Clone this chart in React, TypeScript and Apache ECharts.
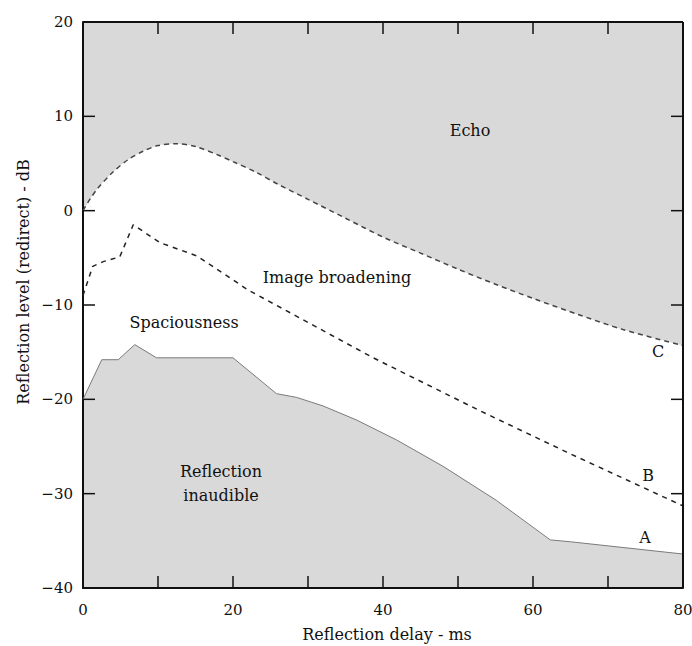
import React, { useEffect, useRef } from "react";
import * as echarts from "echarts";

// Reflection delay (ms) vs reflection level (dB)
const curveC: [number, number][] = [
  [0, 0], [1, 1.3], [2, 2.4], [4, 4.1], [6, 5.4], [8, 6.3], [10, 6.9], [12.5, 7.1],
  [15, 6.8], [18, 5.9], [20, 5.2], [23, 4.1], [26, 2.8], [30, 1.2], [35, -0.8],
  [40, -2.8], [45, -4.5], [50, -6.2], [55, -7.8], [60, -9.3], [66, -11.0],
  [72, -12.6], [80, -14.3],
];
const curveB: [number, number][] = [
  [0, -9.0], [1.3, -5.9], [2.7, -5.4], [4.9, -4.9], [6.7, -1.5], [10.3, -3.4],
  [15.2, -4.8], [22, -8.4], [38.7, -15.6], [52.9, -21.2], [64.5, -25.6], [80, -31.3],
];
const curveA: [number, number][] = [
  [0, -20.0], [2.5, -15.8], [4.7, -15.8], [6.9, -14.2], [9.8, -15.6], [20, -15.6],
  [25.8, -19.4], [28.5, -19.8], [32, -20.7], [36.5, -22.2], [41.8, -24.3], [48, -27.1],
  [55.1, -30.7], [62.3, -34.9], [65, -35.1], [80, -36.4],
];
const xTickLabels = ["0", "20", "40", "60", "80"];
const yTickLabels = ["−40", "−30", "−20", "−10", "0", "10", "20"];
const xTicks = [10, 20, 30, 40, 50, 60, 70];
const yTicks = [-30, -20, -10, 0, 10];

const FONT = "DejaVu Serif";
const FILL = "rgba(0,0,0,0.15)";
const X_MIN = 0, X_MAX = 80, Y_MIN = -40, Y_MAX = 20;

export default function App() {
  const ref = useRef<HTMLDivElement>(null);
  useEffect(() => {
    if (!ref.current) return;
    const chart = echarts.init(ref.current, undefined, { renderer: "svg" });
    const axisLine = () => ({ show: true, onZero: false, lineStyle: { color: "#111", width: 2 } });
    const xFmt = (v: number) => (xTickLabels.includes(String(v)) ? String(v) : "");
    const yFmt = (v: number) => {
      const s = v < 0 ? "−" + Math.abs(v) : String(v);
      return yTickLabels.includes(s) ? s : "";
    };
    const txt = (text: string, x: number, y: number, size = 16) => ({
      type: "text",
      x,
      y,
      z: 50,
      style: { text, fontFamily: FONT, fontSize: size, fill: "#111", align: "center", verticalAlign: "middle" },
    });
    chart.setOption({
      animation: false,
      grid: { left: 83, top: 22, right: 9, bottom: 58, outerBoundsMode: "none" },
      xAxis: {
        type: "value", min: X_MIN, max: X_MAX, interval: 10,
        axisLine: axisLine(), axisTick: { show: false }, splitLine: { show: false },
        axisLabel: { formatter: xFmt, fontFamily: FONT, fontSize: 15, color: "#111", margin: 14 },
      },
      yAxis: {
        type: "value", min: Y_MIN, max: Y_MAX, interval: 10,
        axisLine: axisLine(), axisTick: { show: false }, splitLine: { show: false },
        axisLabel: { formatter: yFmt, fontFamily: FONT, fontSize: 15, color: "#111", margin: 10 },
      },
      series: [
        {
          type: "line", name: "C", data: curveC, smooth: 0.3, symbol: "none",
          lineStyle: { color: "#444", width: 1.5, type: [5, 4] },
          areaStyle: { origin: "end", color: FILL, opacity: 1 },
        },
        {
          type: "line", name: "A", data: curveA, symbol: "none",
          lineStyle: { color: "#7a7a7a", width: 1 },
          areaStyle: { origin: "start", color: FILL, opacity: 1 },
        },
        {
          type: "line", name: "B", data: curveB, symbol: "none",
          lineStyle: { color: "#222", width: 1.5, type: [5, 5] },
        },
      ],
    });

    // ticks and frame, placed through the chart's own scales
    const px = (x: number, y: number) => chart.convertToPixel({ gridIndex: 0 }, [x, y]) as number[];
    const TL = 12;
    const seg = (x1: number, y1: number, x2: number, y2: number, w = 1.5) => ({
      type: "line",
      z: 100,
      shape: { x1, y1, x2, y2 },
      style: { stroke: "#111", lineWidth: w },
    });
    const marks: any[] = [];
    xTicks.forEach((v) => {
      const b = px(v, Y_MIN);
      const t = px(v, Y_MAX);
      marks.push(seg(b[0], b[1], b[0], b[1] - TL));
      marks.push(seg(t[0], t[1], t[0], t[1] + TL));
    });
    yTicks.forEach((v) => {
      const l = px(X_MIN, v);
      const r = px(X_MAX, v);
      marks.push(seg(l[0], l[1], l[0] + TL, l[1]));
      marks.push(seg(r[0], r[1], r[0] - TL, r[1]));
    });
    const tl = px(X_MIN, Y_MAX);
    const tr = px(X_MAX, Y_MAX);
    const br = px(X_MAX, Y_MIN);
    marks.push(seg(tl[0], tl[1], tr[0], tr[1], 2));
    marks.push(seg(tr[0], tr[1], br[0], br[1], 2));

    chart.setOption({
      graphic: [
        {
          type: "text", x: 23, y: 282, rotation: Math.PI / 2, z: 50,
          style: { text: "Reflection level (redirect) - dB", fontFamily: FONT, fontSize: 16, fill: "#111", align: "center", verticalAlign: "middle" },
        },
        txt("Reflection delay - ms", 387, 634),
        txt("Echo", 470, 130),
        txt("Image broadening", 337, 277),
        txt("Spaciousness", 184, 322),
        txt("Reflection", 221, 471),
        txt("inaudible", 221, 495),
        txt("C", 658, 351),
        txt("B", 648, 475),
        txt("A", 645, 537),
        ...marks,
      ],
    });
    return () => chart.dispose();
  }, []);
  return <div ref={ref} style={{ position: "absolute", left: 0, top: 0, width: 692, height: 646 }} />;
}
